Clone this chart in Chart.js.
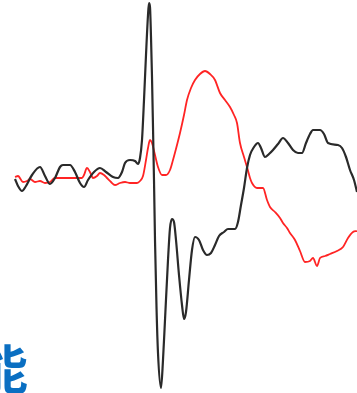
<!DOCTYPE html>
<html>
<head>
<meta charset="utf-8">
<script src="https://cdn.jsdelivr.net/npm/chart.js@4"></script>
<style>
    html, body { margin: 0; padding: 0; background: #fff; overflow: hidden; }
    #wrap { position: relative; width: 357px; height: 393px; overflow: hidden; }
    #label {
        position: absolute; left: -24px; top: 341px;
        font: bold 52px "Noto Sans CJK SC", sans-serif; color: #0a6fc2;
        line-height: 1; white-space: nowrap;
    }
</style>
</head>
<body>
<div id="wrap">
    <canvas id="grafico" width="357" height="393"></canvas>
    <div id="label">能</div>
</div>
<script>
// muestras de la curva negra
const tiempoNegro = [15, 18, 22, 26, 32, 40, 45, 50, 55, 60, 63, 70, 75, 80, 84, 88, 94, 100, 106, 113, 118, 122, 125, 130, 135, 138, 140, 142, 144, 146, 148, 149, 150, 151, 152, 153, 154, 155, 156.5, 158, 161, 163, 165, 168, 170, 172, 174, 176, 179, 182, 184, 186, 189, 192, 195, 199, 203, 207, 211, 215, 219, 224, 228, 235, 238, 241, 244, 247, 250, 254, 258, 261, 265, 269, 273, 278, 283, 288, 293, 298, 302, 306, 310, 313, 320, 324, 328, 338, 342, 346, 350, 354, 357];
const valoresNegro = [-2, -9, -14, -9, 2, 10, 1, -7, -1, 10, 12, 12, 5, -6, -10, -3, 5, 9, 5, 0, -1, 5, 14, 17, 16, 13, 19, 37, 77, 122, 162, 174, 170, 140, 100, 50, -3, -63, -130, -176, -211, -183, -143, -83, -51, -42, -45, -63, -98, -128, -142, -135, -103, -73, -60, -63, -73, -78, -76, -68, -59, -55, -52, -52, -45, -28, -11, 9, 22, 30, 34, 29, 20, 23, 27, 33, 39, 34, 27, 24, 24, 34, 43, 47, 47, 43, 34, 32, 29, 20, 7, -3, -15];

// muestras de la curva roja
const tiempoRojo = [15, 18, 23, 27, 30, 35, 40, 45, 50, 55, 60, 70, 82, 84, 87, 90, 93, 97, 100, 104, 107, 111, 115, 120, 125, 130, 137, 140, 143, 146, 148, 150, 152, 155, 158, 162, 166, 170, 173, 177, 180, 184, 187, 191, 195, 200, 205, 210, 215, 220, 225, 230, 234, 237, 240, 244, 247, 250, 252, 257, 263, 267, 270, 275, 280, 283, 287, 290, 295, 300, 305, 310, 313, 317, 320, 325, 330, 337, 343, 348, 353, 357];
const valoresRojo = [0, 1, -5, -4, -2, -5, -4, -6, -5, -1, -1, -1, -1, 2, 9, 5, -1, 1, 4, 2, -1, -5, -8, -6, -5, -6, -6, -4, 1, 17, 29, 37, 34, 22, 10, 2, 2, 7, 17, 32, 44, 62, 77, 89, 97, 103, 106, 103, 97, 84, 77, 70, 62, 54, 34, 20, 10, -1, -6, -11, -11, -23, -30, -35, -41, -46, -51, -56, -63, -74, -85, -84, -81, -89, -81, -79, -77, -74, -70, -61, -55, -54];

function puntos(xs, ys) {
    return xs.map((x, i) => ({ x: x, y: ys[i] }));
}

const ctx = document.getElementById('grafico').getContext('2d');
const chart = new Chart(ctx, {
    type: 'line',
    data: {
        datasets: [{
            data: puntos(tiempoNegro, valoresNegro),
            borderColor: '#2a2a2a',
            borderWidth: 2.2,
            pointRadius: 0,
            cubicInterpolationMode: 'monotone'
        }, {
            data: puntos(tiempoRojo, valoresRojo),
            borderColor: '#ff2424',
            borderWidth: 1.8,
            pointRadius: 0,
            cubicInterpolationMode: 'monotone'
        }]
    },
    options: {
        responsive: false,
        animation: false,
        layout: { padding: 0 },
        plugins: { legend: { display: false }, tooltip: { enabled: false } },
        scales: {
            x: { type: 'linear', min: 0, max: 357, display: false },
            y: { min: -216, max: 177, display: false }
        }
    }
});
</script>
</body>
</html>
